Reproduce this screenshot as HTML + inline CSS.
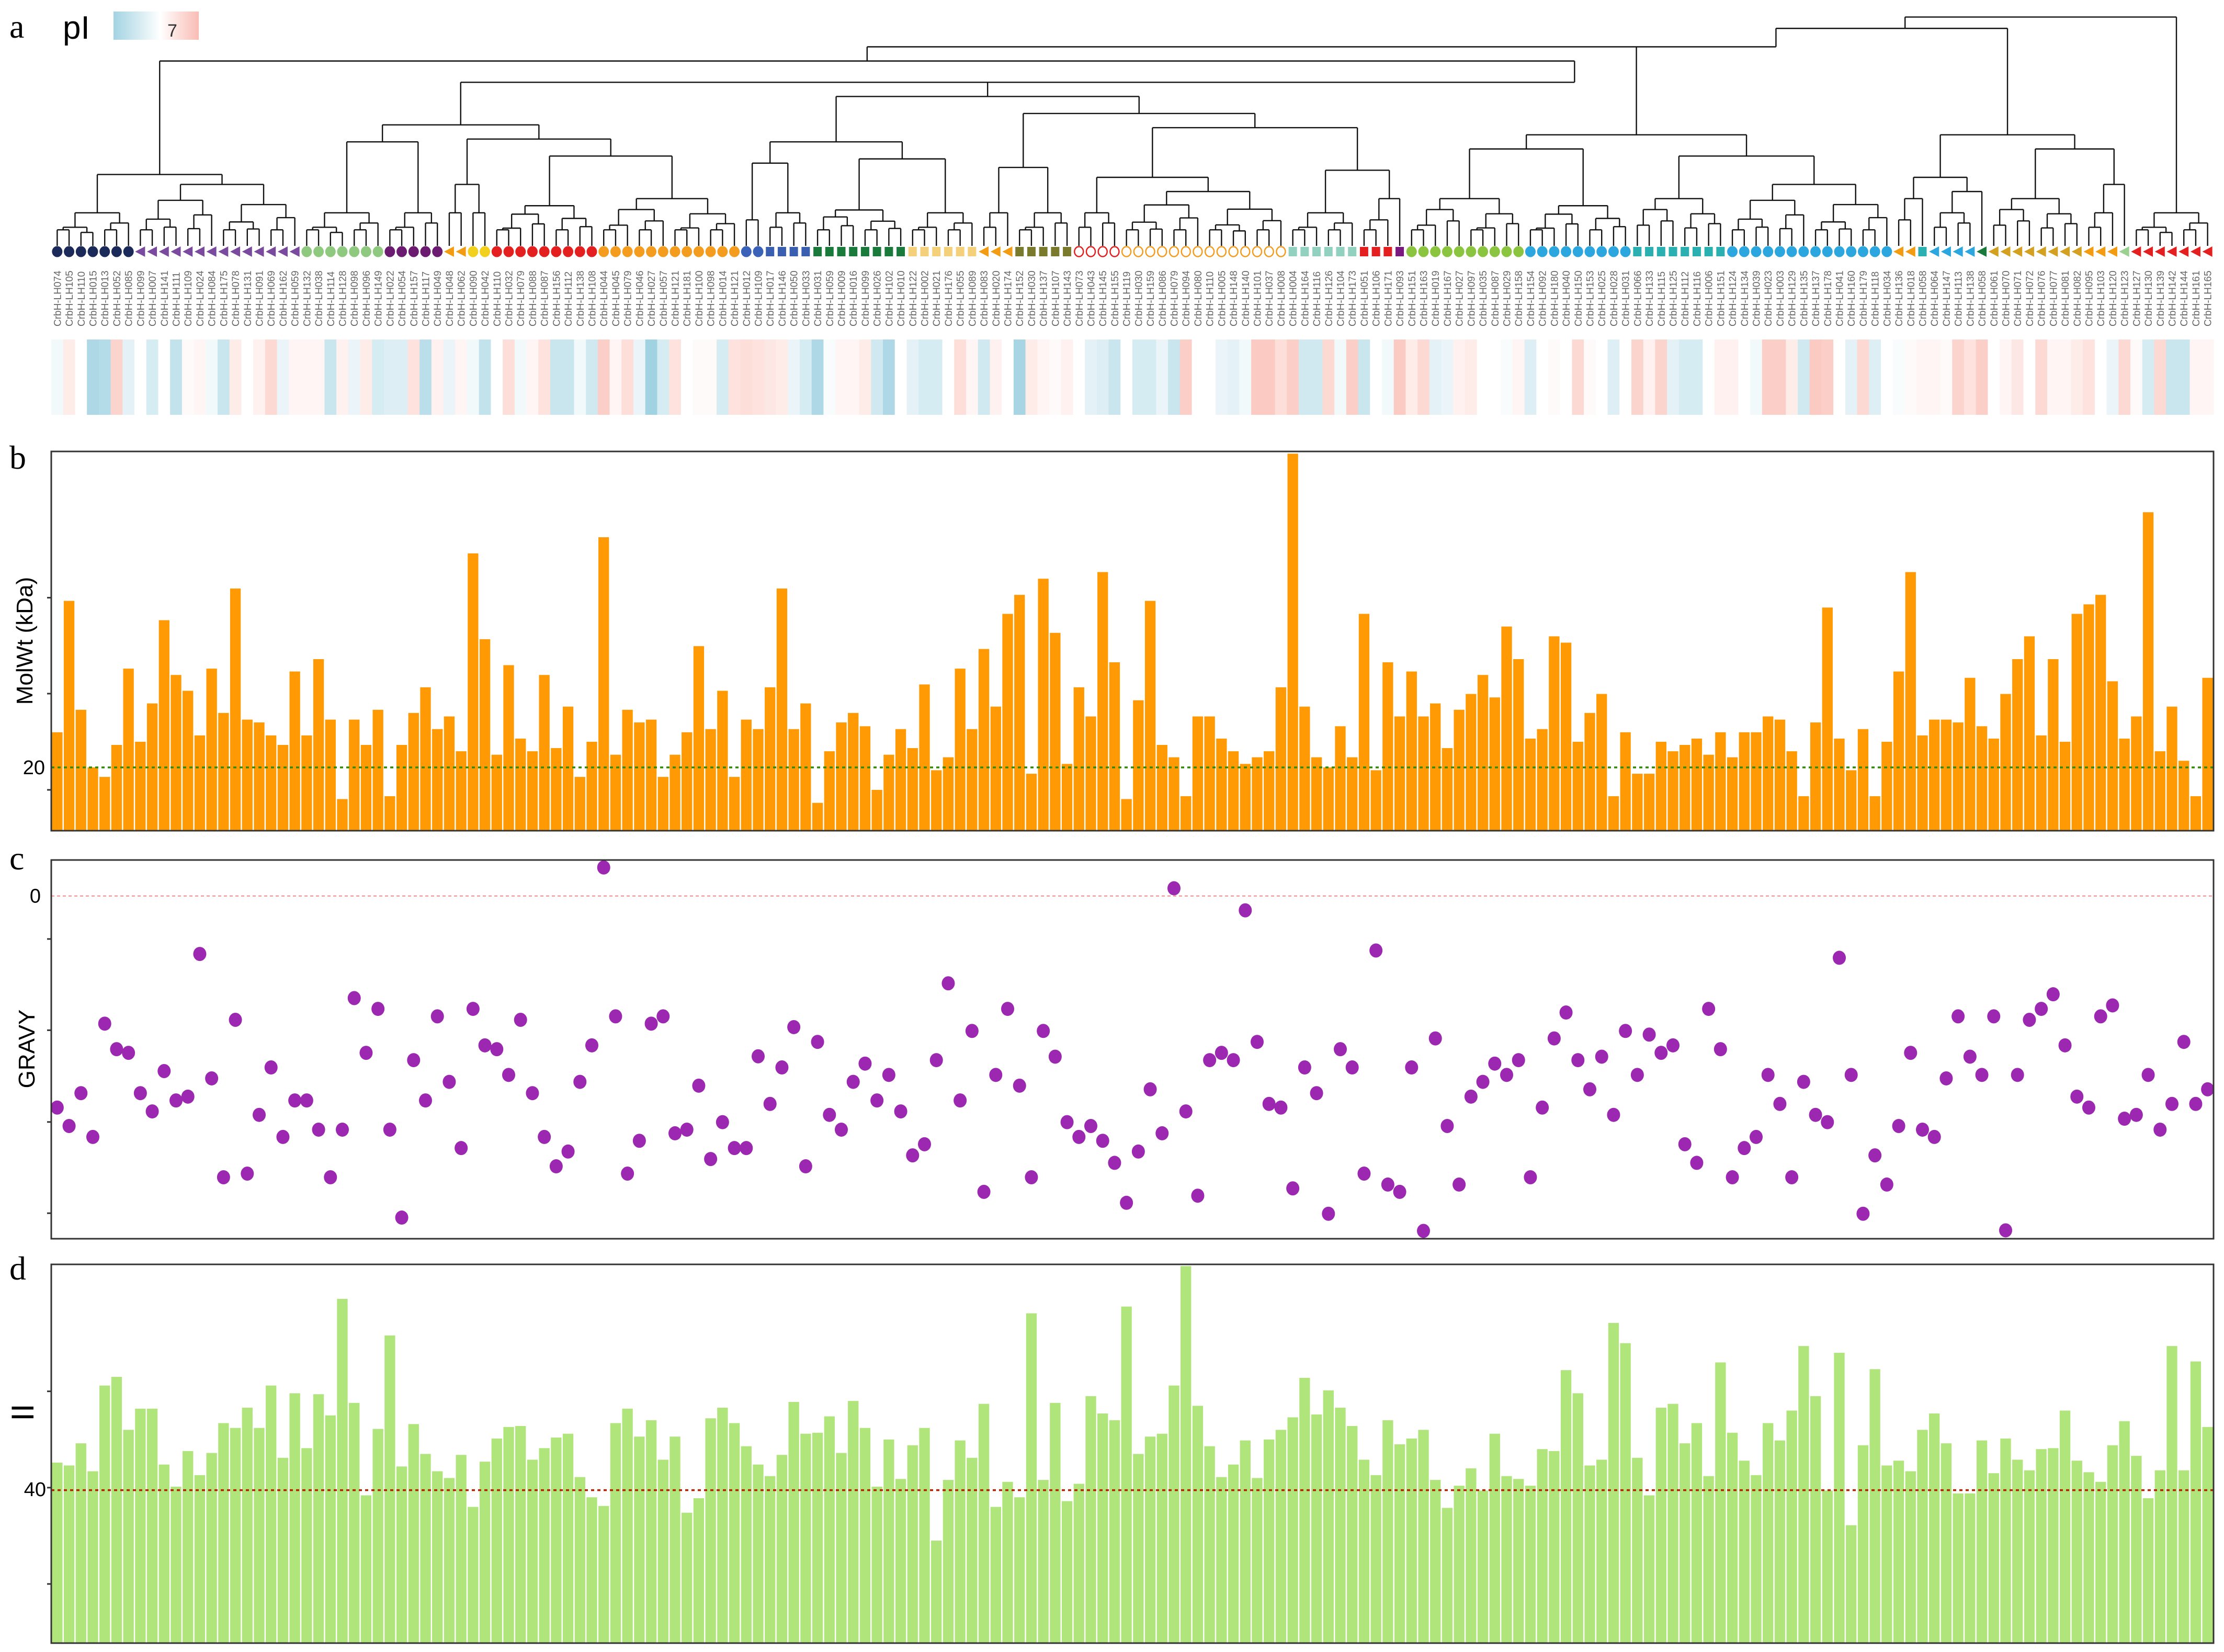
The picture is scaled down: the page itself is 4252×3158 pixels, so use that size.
<!DOCTYPE html>
<html><head><meta charset="utf-8">
<style>
html,body{margin:0;padding:0;background:#fff;}
svg{display:block;}
</style></head>
<body>
<svg id="fig" xmlns="http://www.w3.org/2000/svg" width="4252" height="3158" viewBox="0 0 4252 3158">
<rect x="0" y="0" width="4252" height="3158" fill="#fff"/>
<g id="dendro"></g>
<g id="markers"></g>
<g id="labels"></g>
<g id="heat"></g>
<g id="pb"></g>
<g id="pc"></g>
<g id="pd"></g>
<defs>
<linearGradient id="pigrad" x1="0" x2="1" y1="0" y2="0">
<stop offset="0" stop-color="#a3d3e2"/><stop offset="0.55" stop-color="#ffffff"/><stop offset="1" stop-color="#f9bcb4"/>
</linearGradient>
</defs>
<text x="18" y="72" font-family="Liberation Serif, serif" font-size="64">a</text>
<text x="120" y="74" font-family="Liberation Sans, sans-serif" font-size="62">pI</text>
<rect x="217" y="22" width="163" height="54" fill="url(#pigrad)"/>
<text x="320" y="70" font-family="Liberation Sans, sans-serif" font-size="34" fill="#333">7</text>
<text x="18" y="896" font-family="Liberation Serif, serif" font-size="64">b</text>
<text x="18" y="1662" font-family="Liberation Serif, serif" font-size="64">c</text>
<text x="18" y="2446" font-family="Liberation Serif, serif" font-size="64">d</text>
<text transform="translate(62,1225) rotate(-90)" text-anchor="middle" font-family="Liberation Sans, sans-serif" font-size="44">MolWt (kDa)</text>
<text transform="translate(66,2005) rotate(-90)" text-anchor="middle" font-family="Liberation Sans, sans-serif" font-size="44">GRAVY</text>
<text transform="translate(64,2700) rotate(-90)" text-anchor="middle" font-family="Liberation Sans, sans-serif" font-size="60">II</text>
</svg>
<script>
const molwt=[31.1,72.6,38.2,20.0,17.0,27.1,51.2,28.1,40.2,66.5,49.2,44.2,30.1,51.2,37.2,76.5,35.1,34.2,30.1,27.1,50.3,30.1,54.2,35.1,10.0,35.1,27.1,38.2,10.9,27.1,37.2,45.3,32.1,36.1,25.1,87.6,60.5,24.0,52.3,29.1,25.1,49.2,26.1,39.2,17.0,28.1,92.7,24.0,38.2,34.2,35.1,17.0,24.0,31.1,58.3,32.1,44.2,17.0,35.1,32.1,45.3,76.5,32.1,40.2,8.8,25.1,34.2,37.2,33.0,12.9,24.0,32.1,26.1,46.2,19.1,23.2,51.2,32.1,57.4,39.2,68.5,74.5,18.0,79.6,62.5,21.1,45.3,36.1,81.7,53.2,10.0,41.2,72.6,27.1,23.2,10.9,36.1,36.1,29.1,25.1,21.1,23.2,25.1,45.3,119.1,39.2,23.2,20.0,33.0,23.2,68.5,19.1,53.2,36.1,50.3,36.1,40.2,26.1,38.2,43.2,49.2,42.1,64.5,54.2,29.1,32.1,61.4,59.4,28.1,37.2,43.2,10.9,31.1,18.0,18.0,28.1,25.1,27.1,29.1,24.0,31.1,23.2,31.1,31.1,36.1,35.1,25.1,10.9,34.2,70.5,29.1,19.1,32.1,10.9,28.1,50.3,81.7,30.1,35.1,35.1,34.2,48.3,33.0,29.1,43.2,54.2,61.4,30.1,54.2,28.1,68.5,71.5,74.5,47.2,29.1,36.1,100.6,25.1,39.2,22.1,10.9,48.3];
const gravy=[-1.160,-1.261,-1.081,-1.321,-0.700,-0.840,-0.860,-1.081,-1.181,-0.960,-1.121,-1.100,-0.318,-1.000,-1.542,-0.679,-1.522,-1.200,-0.940,-1.321,-1.121,-1.121,-1.281,-1.542,-1.281,-0.560,-0.860,-0.619,-1.281,-1.763,-0.900,-1.121,-0.660,-1.019,-1.382,-0.619,-0.819,-0.840,-0.981,-0.679,-1.081,-1.321,-1.482,-1.401,-1.019,-0.819,0.156,-0.660,-1.522,-1.342,-0.700,-0.660,-1.301,-1.281,-1.040,-1.442,-1.240,-1.382,-1.382,-0.879,-1.140,-0.940,-0.719,-1.482,-0.800,-1.200,-1.281,-1.019,-0.919,-1.121,-0.981,-1.181,-1.422,-1.361,-0.900,-0.479,-1.121,-0.740,-1.622,-0.981,-0.619,-1.040,-1.542,-0.740,-0.881,-1.240,-1.321,-1.261,-1.342,-1.463,-1.682,-1.401,-1.060,-1.301,0.042,-1.181,-1.643,-0.900,-0.860,-0.900,-0.079,-0.800,-1.140,-1.160,-1.603,-0.940,-1.081,-1.742,-0.840,-0.940,-1.522,-0.299,-1.582,-1.622,-0.940,-1.836,-0.781,-1.261,-1.582,-1.100,-1.019,-0.919,-0.981,-0.900,-1.542,-1.160,-0.781,-0.639,-0.900,-1.060,-0.881,-1.200,-0.740,-0.981,-0.760,-0.860,-0.819,-1.361,-1.463,-0.619,-0.840,-1.542,-1.382,-1.321,-0.981,-1.140,-1.542,-1.019,-1.200,-1.240,-0.339,-0.981,-1.742,-1.422,-1.582,-1.261,-0.860,-1.281,-1.321,-1.000,-0.660,-0.881,-0.981,-0.660,-1.833,-0.981,-0.679,-0.619,-0.539,-0.819,-1.100,-1.160,-0.660,-0.600,-1.221,-1.200,-0.981,-1.281,-1.140,-0.800,-1.140,-1.060];
const instab=[42.6,42.3,44.6,41.7,50.6,51.5,46.0,48.2,48.2,42.4,40.1,43.8,41.3,43.6,46.7,46.2,48.3,46.2,50.6,43.1,49.8,44.1,49.7,47.5,59.6,48.8,39.2,46.1,55.8,42.2,46.6,43.5,41.7,41.0,43.4,38.0,42.7,45.1,46.3,46.4,42.9,44.1,45.2,45.6,41.1,39.0,38.1,46.7,48.2,45.3,47.0,42.9,45.3,37.4,38.9,47.2,48.3,46.7,44.3,42.4,41.2,43.4,48.9,45.6,45.7,47.4,43.6,49.0,46.2,40.1,45.0,40.9,44.4,46.2,34.5,40.8,44.9,43.1,48.7,38.0,40.6,39.0,58.1,40.8,48.8,38.6,40.4,49.5,47.7,47.0,58.8,43.5,45.3,45.6,50.6,63.0,48.5,44.3,41.1,42.4,44.9,41.0,45.0,46.0,47.3,51.4,47.6,50.1,48.3,46.4,42.9,41.3,47.0,44.5,45.1,46.0,40.8,37.9,40.2,42.0,39.7,45.6,41.2,40.9,40.2,44.0,43.8,52.2,49.8,42.3,42.9,57.1,55.0,43.1,39.2,48.3,48.7,44.6,46.7,41.2,53.0,45.7,42.8,41.3,46.7,44.9,48.0,54.7,49.5,39.7,54.0,36.1,44.4,52.3,42.3,42.8,41.7,46.0,47.7,44.6,39.4,39.4,44.9,41.5,45.1,42.9,41.8,44.0,44.1,48.0,42.8,41.6,40.6,44.4,46.9,43.3,38.9,41.8,54.7,41.8,53.1,46.3];
const piDev=[-0.1,0.2,0,-0.6,-0.55,0.45,-0.2,0,-0.3,0,-0.45,0.05,0.1,-0.1,-0.4,0.2,0,0.15,0.4,-0.15,0.1,0.1,0.1,-0.4,0.15,-0.15,0.2,-0.3,-0.25,-0.25,0.3,-0.5,0.15,-0.15,0.1,-0.1,-0.45,0,0.35,-0.1,0.1,0.3,-0.4,-0.4,-0.1,-0.35,0.5,0.1,0.35,-0.15,-0.7,-0.3,0.3,0,0.05,0.05,-0.3,0.3,0.35,0.3,0.25,0.2,
-0.15,-0.3,-0.6,-0.05,0.1,0.1,0.2,-0.35,-0.6,0,-0.2,-0.3,-0.3,0,0.35,0.1,-0.35,0.15,0,-0.65,0.2,0.1,0.05,0.15,0,-0.2,-0.25,-0.4,0,-0.3,-0.3,-0.15,-0.4,0.5,0,0,-0.15,-0.2,-0.1,0.55,0.55,0.35,0.5,-0.35,-0.35,0.4,-0.1,0.5,-0.4,0,-0.1,0.55,0.2,0.4,-0.2,-0.15,0.15,0.2,0,0,
-0.05,0.1,-0.25,0,0.05,0,0.4,0.05,0,-0.25,0,0.45,0.15,0.45,-0.2,-0.3,-0.3,0,0.15,0.15,0,-0.1,0.5,0.5,0.2,-0.35,0.55,0.5,0,-0.2,0.4,-0.25,0,-0.05,0.05,0.1,0.1,0.05,0.45,0.3,0.5,0,0.1,0.25,0,0.4,0.1,0.1,0.2,0.3,0,-0.15,0.4,0.05,-0.3,0.4,-0.4,-0.4,0.1,0.1];
const labelIds=["074","105","110","015","013","052","085","099","007","141","111","109","024","084","175","078","131","091","069","162","059","132","038","114","128","098","096","149","022","054","157","117","049","048","062","090","042","110","032","079","088","087","156","112","138","108","044","045","079","046","027","057","121","181","100","098","014","121","012","109","017","146","050","033","031","059","009","016","099","026","102","010","122","002","021","176","055","089","083","020","174","152","030","137","107","143","073","043","145","155","119","030","159","086","079","094","080","110","005","148","140","101","037","008","004","164","116","126","104","173","051","106","171","093","151","163","019","167","027","097","035","087","029","158","154","092","180","040","150","153","025","028","031","066","133","115","125","112","116","006","151","124","134","039","023","003","129","135","137","178","041","160","179","118","034","136","018","058","064","147","113","138","058","061","070","071","072","076","077","081","082","095","103","120","123","127","130","139","142","144","161","165","166","168"];
const groups=[[1,7,"c","#1c2a5a"],[8,21,"t","#7a4a9e"],[22,28,"c","#8fc97f"],[29,33,"c","#6b1b70"],[34,35,"t","#f39c12"],[36,37,"c","#f2d01e"],[38,46,"c","#e3201f"],[47,58,"c","#f39c1e"],[59,60,"c","#3a62b8"],[61,64,"s","#3a5fb0"],[65,72,"s","#1a7a3c"],[73,78,"s","#f5d07a"],[79,81,"t","#f39c12"],[82,86,"s","#7a7a2c"],[87,90,"o","#e3201f"],[91,104,"o","#f39c1e"],[105,110,"s","#92d1bf"],[111,113,"s","#e3201f"],[114,114,"s","#7a1a7e"],[115,124,"c","#8bc53f"],[125,133,"c","#2ba6de"],[134,141,"s","#2ab0b0"],[142,155,"c","#2ba6de"],[156,157,"t","#f39c12"],[158,158,"s","#2ab0b0"],[159,162,"t","#2ba6de"],[163,163,"t","#1a7a3c"],[164,171,"t","#d4a020"],[172,174,"t","#f39c12"],[175,175,"t","#9ad090"],[176,182,"t","#e3201f"]];
const mwTicks=[12.9,43.3,73.6];
const grTicks=[-0.236,-0.736,-1.239,-1.739];
const iiTicks=[30,40,50];

const NS="http://www.w3.org/2000/svg";
const N=molwt.length;
const X0=98,X1=4232,P=(X1-X0)/N;
function cx(i){return X0+P*(i+0.5);}
function mk(tag,attrs,parent){const e=document.createElementNS(NS,tag);for(const k in attrs)e.setAttribute(k,attrs[k]);parent.appendChild(e);return e;}

function panel(g,top,bot,ymin,ymax){
  return v=>bot-(v-ymin)/(ymax-ymin)*(bot-top);
}
function frame(g,top,bot,name){
  const r=mk('rect',{x:X0,y:top,width:X1-X0,height:bot-top,fill:'none',stroke:'#333','stroke-width':3},g);
  
  
}
function ticks(g,ys,arr,name){
  arr.forEach(t=>{const l=mk('line',{x1:X0-8,x2:X0,y1:ys(t),y2:ys(t),stroke:'#333','stroke-width':3},g);
  
  });
}

// Panel b
(function(){
  const g=document.getElementById('pb');const top=863,bot=1588;
  const ys=panel(g,top,bot,0,119.8);
  molwt.forEach((v,i)=>{const r=mk('rect',{x:X0+P*i+1.2,y:ys(v),width:P-2.4,height:bot-ys(v),fill:'#ff9a04'},g);
    
    });
  const l=mk('line',{x1:X0,x2:X1,y1:ys(20),y2:ys(20),stroke:'#2e8b00','stroke-width':3.5,'stroke-dasharray':'6 6'},g);
  
  
  ticks(g,ys,mwTicks,'molwt-tick');
  const t=mk('text',{x:X0-12,y:ys(20)+13,'text-anchor':'end','font-family':'Liberation Sans, sans-serif','font-size':38},g);t.textContent='20';
  
  
  frame(g,top,bot,'molwt-frame');
})();
// Panel c
(function(){
  const g=document.getElementById('pc');const top=1644,bot=2368;
  const ys=panel(g,top,bot,-1.879,0.197);
  const l=mk('line',{x1:X0,x2:X1,y1:ys(0),y2:ys(0),stroke:'#f08a8a','stroke-width':2,'stroke-dasharray':'6 5'},g);
  
  
  gravy.forEach((v,i)=>{const c=mk('ellipse',{cx:cx(i),cy:ys(v),rx:12.5,ry:13.5,fill:'#9c27b0'},g);
    
    });
  ticks(g,ys,grTicks,'gravy-tick');
  const t=mk('text',{x:X0-20,y:ys(0)+13,'text-anchor':'end','font-family':'Liberation Sans, sans-serif','font-size':38},g);t.textContent='0';
  
  
  frame(g,top,bot,'gravy-frame');
})();
// Panel d
(function(){
  const g=document.getElementById('pd');const top=2417,bot=3141;
  const ys=panel(g,top,bot,23.86,63.18);
  instab.forEach((v,i)=>{const r=mk('rect',{x:X0+P*i+1.2,y:ys(v),width:P-2.4,height:bot-ys(v),fill:'#b0e57c'},g);
    
    });
  const l=mk('line',{x1:X0,x2:X1,y1:ys(39.74),y2:ys(39.74),stroke:'#b22000','stroke-width':3.5,'stroke-dasharray':'6 6'},g);
  
  
  ticks(g,ys,iiTicks,'ii-tick');
  const t=mk('text',{x:X0-10,y:ys(40)+16,'text-anchor':'end','font-family':'Liberation Sans, sans-serif','font-size':38},g);t.textContent='40';
  
  
  frame(g,top,bot,'ii-frame');
})();
// Heatmap
(function(){
  const g=document.getElementById('heat');
  piDev.slice(0,N).forEach((v,i)=>{
    const a=Math.min(1,Math.abs(v)/0.7);
    const full=v<0?[160,210,226]:[250,188,178];
    const c=[0,1,2].map(k=>Math.round(255+(full[k]-255)*a));
    const r=mk('rect',{x:X0+P*i,y:649,width:P+0.6,height:144,fill:`rgb(${c.join(',')})`},g);
    
    
  });
})();
// Markers & labels
(function(){
  const g=document.getElementById('markers');const lg=document.getElementById('labels');
  groups.forEach(([s,e,sh,col])=>{for(let i=s-1;i<e;i++){
    const x=cx(i),y=481;let m;
    if(sh==='c')m=mk('ellipse',{cx:x,cy:y,rx:10,ry:10.5,fill:col},g);
    else if(sh==='o')m=mk('ellipse',{cx:x,cy:y,rx:8.5,ry:9.5,fill:'#fff',stroke:col,'stroke-width':2.5},g);
    else if(sh==='s')m=mk('rect',{x:x-8,y:y-9,width:16,height:18,fill:col},g);
    else m=mk('polygon',{points:`${x-10},${y} ${x+9},${y-10} ${x+9},${y+10}`,fill:col},g);
    
    
  }});
  for(let i=0;i<N;i++){
    const id=labelIds[i]||String(i).padStart(3,'0');
    const t=mk('text',{transform:`translate(${cx(i)+7},624) rotate(-90)`,'font-family':'Liberation Sans, sans-serif','font-size':19,fill:'#666'},lg);
    t.textContent='CrbH-LH'+id;
    
    
  }
})();
// Dendrogram
(function(){
  const g=document.getElementById('dendro');const S=2.712,LEAFY=470;
  function grp(s,e,top){
    if(s===e)return s-1;
    if(e-s===1)return [top,s-1,e-1];
    const m=Math.floor((s+e)/2);
    const h=top+(162-top)*0.35;
    return [top,grp(s,m,Math.min(162,h+(e-s>6?0:6))),grp(m+1,e,Math.min(164,h+3))];
  }
  const G=groups.map(([s,e])=>[s,e]);
  const gr=(k,h)=>grp(G[k][0],G[k][1],h);
  const D=[58,
      [88,[100,gr(2,150),gr(3,150)],[98,[130,gr(4,150),gr(5,150)],[110,gr(6,145),gr(7,140)]]],
      [68,[100,[115,gr(8,155),gr(9,150)],[112,gr(10,148),gr(11,150)]],
        [80,[118,gr(12,150),gr(13,150)],[90,[125,gr(14,150),gr(15,135)],[120,gr(16,150),[140,gr(17,155),gr(18,160)]]]]],
      1110*S];
  const A=[43,[123,gr(0,150),gr(1,130)],D];
  const B=[95,[105,gr(19,140),gr(20,145)],[110,gr(21,140),gr(22,130)]];
  const TRI=[95,[125,[140,gr(23,155),gr(24,160)],[135,gr(25,150),gr(26,160)]],[105,gr(27,140),[130,gr(28,150),gr(29,160)]]];
  const tree=[12,[20,[33,A,B,1252*S],TRI,1343*S],gr(30,150)];
  function draw(n){
    if(typeof n==='number')return {x:cx(n),y:LEAFY};
    const a=draw(n[1]),b=draw(n[2]);const y=n[0]*S;
    const x=(n[3]!==undefined)?n[3]:(a.x+b.x)/2;
    const xl=Math.min(a.x,x),xr=Math.max(b.x,x);
    const p=mk('path',{d:`M${a.x},${a.y}V${y}M${xl},${y}H${xr}M${b.x},${y}V${b.y}`,fill:'none',stroke:'#111','stroke-width':2.4},g);
    
    
    return {x:x,y:y};
  }
  draw(tree);
})();
</script>
</body></html>
